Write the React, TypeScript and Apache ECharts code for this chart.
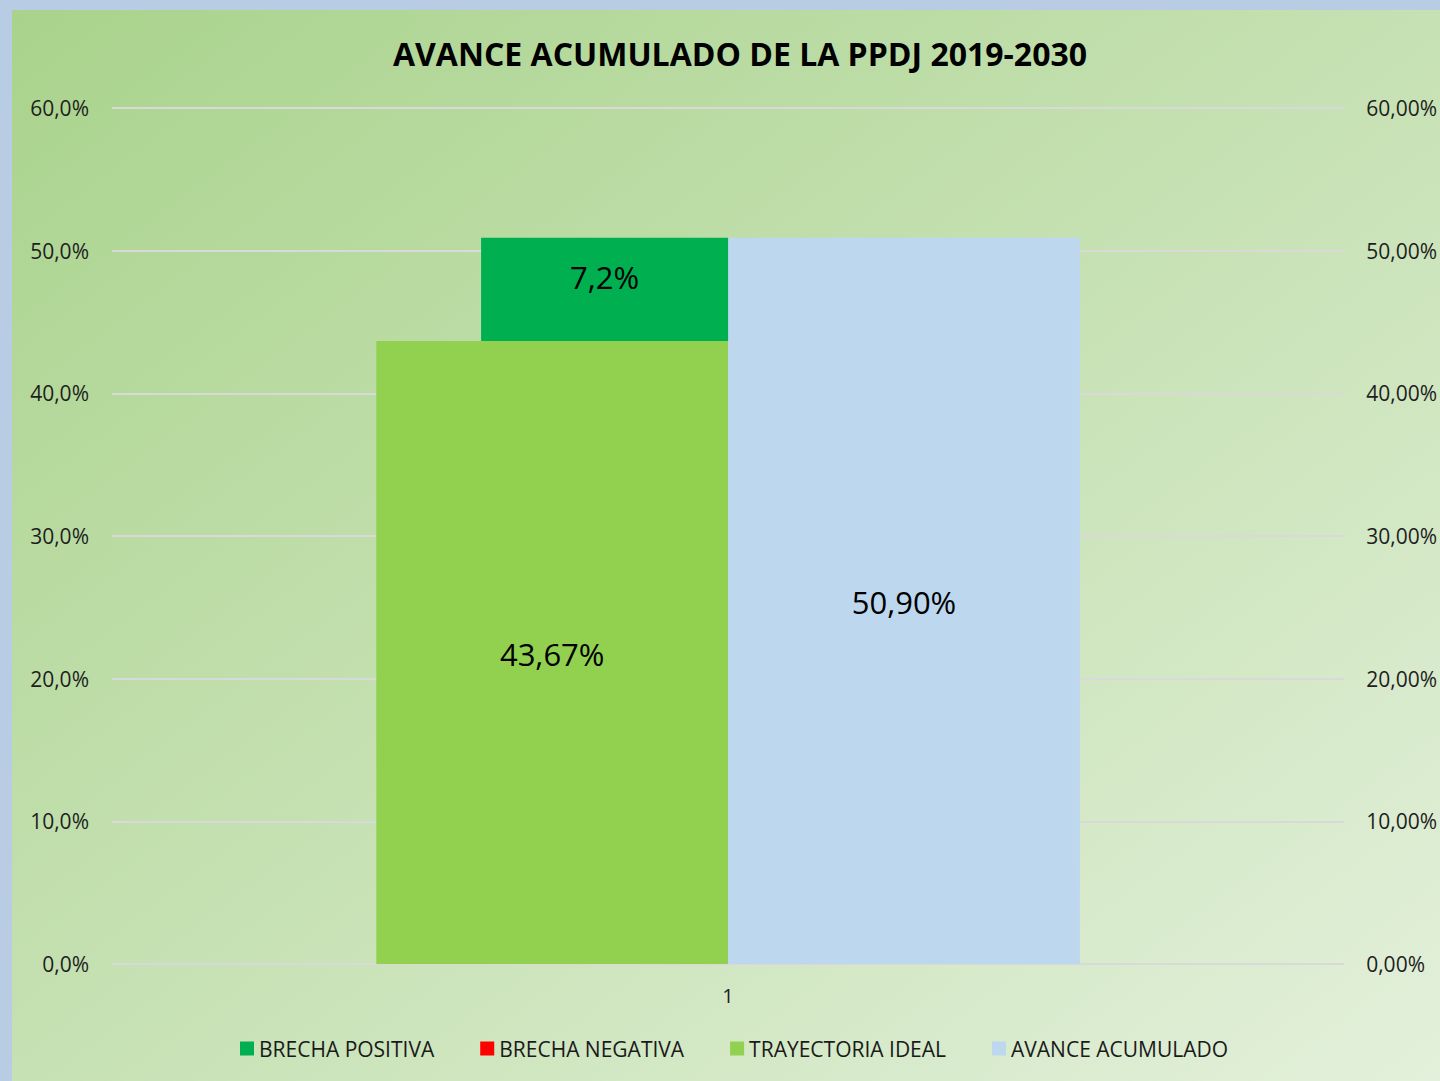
import React, { useEffect, useRef } from "react";
import * as echarts from "echarts";

const categories = ["1"];
const trayectoriaIdeal = [43.67];
const avanceAcumulado = [50.9];
const brechaPositiva = [7.23];
const brechaNegativa = [0];
const axisTicks = [0, 10, 20, 30, 40, 50, 60];

const FONT = "'Open Sans', 'Noto Sans', sans-serif";

const fmt = (v: number, d: number) => v.toFixed(d).replace(".", ",") + "%";

export default function App() {
  const ref = useRef<HTMLDivElement>(null);
  useEffect(() => {
    document.body.style.margin = "0";
    const chart = echarts.init(ref.current!, null, { renderer: "svg" });
    const labelStyle = { color: "#1e1e1e", fontSize: 21, fontFamily: FONT };
    chart.setOption({
      animation: false,
      backgroundColor: {
        type: "linear",
        x: 0,
        y: 0,
        x2: 1,
        y2: 1,
        colorStops: [
          { offset: 0, color: "#a9d38c" },
          { offset: 0.5, color: "#c6e1b3" },
          { offset: 1, color: "#e3f0db" },
        ],
      },
      title: {
        text: "AVANCE ACUMULADO DE LA PPDJ 2019-2030",
        left: 723,
        top: 22,
        textAlign: "center",
        textStyle: { fontFamily: FONT, fontWeight: "bold", fontSize: 32, color: "#000" },
      },
      legend: {
        top: 1023,
        left: 223,
        icon: "rect",
        itemWidth: 14,
        itemHeight: 14,
        itemGap: 46,
        data: ["BRECHA POSITIVA", "BRECHA NEGATIVA", "TRAYECTORIA IDEAL", "AVANCE ACUMULADO"],
        textStyle: { fontFamily: FONT, fontSize: 21, color: "#1a1a1a" },
      },
      grid: { left: 100, right: 93, top: 98, bottom: 117, containLabel: false },
      xAxis: [
        {
          type: "category",
          data: categories,
          axisLine: { show: false },
          axisTick: { show: false },
          axisLabel: { ...labelStyle, fontSize: 20, margin: 21 },
        },
        {
          type: "category",
          data: categories,
          show: false,
        },
      ],
      yAxis: [
        {
          type: "value",
          min: axisTicks[0],
          max: axisTicks[axisTicks.length - 1],
          interval: 10,
          axisLine: { show: false },
          axisTick: { show: false },
          splitLine: { lineStyle: { color: "#d9d9d9", width: 2 } },
          axisLabel: { ...labelStyle, margin: 23, formatter: (v: number) => fmt(v, 1) },
        },
        {
          type: "value",
          min: axisTicks[0],
          max: axisTicks[axisTicks.length - 1],
          interval: 10,
          axisLine: { show: false },
          axisTick: { show: false },
          splitLine: { show: false },
          axisLabel: { ...labelStyle, margin: 22, formatter: (v: number) => fmt(v, 2) },
        },
      ],
      series: [
        {
          name: "TRAYECTORIA IDEAL",
          type: "bar",
          xAxisIndex: 0,
          yAxisIndex: 0,
          data: trayectoriaIdeal,
          barGap: "0%",
          barCategoryGap: "42.9%",
          itemStyle: { color: "#92d050" },
          label: {
            show: true,
            position: "inside",
            formatter: (p: any) => fmt(p.value, 2),
            color: "#000",
            fontSize: 31,
            fontFamily: FONT,
            offset: [0, 2],
          },
        },
        {
          name: "AVANCE ACUMULADO",
          type: "bar",
          xAxisIndex: 0,
          yAxisIndex: 0,
          data: avanceAcumulado,
          itemStyle: { color: "#bdd7ee" },
          label: {
            show: true,
            position: "inside",
            formatter: (p: any) => fmt(p.value, 2),
            color: "#000",
            fontSize: 31,
            fontFamily: FONT,
            offset: [0, 1],
          },
        },
        {
          name: "base",
          type: "bar",
          xAxisIndex: 1,
          yAxisIndex: 1,
          stack: "brecha",
          data: trayectoriaIdeal,
          barWidth: 247,
          barGap: "0%",
          silent: true,
          itemStyle: { color: "rgba(0,0,0,0)" },
          label: { show: false },
        },
        {
          name: "BRECHA POSITIVA",
          type: "bar",
          xAxisIndex: 1,
          yAxisIndex: 1,
          stack: "brecha",
          data: brechaPositiva,
          barWidth: 247,
          itemStyle: { color: "#00b050" },
          label: {
            show: true,
            position: "inside",
            formatter: (p: any) => fmt(p.value, 1),
            color: "#000",
            fontSize: 31,
            fontFamily: FONT,
            offset: [0, -12],
          },
        },
        {
          name: "BRECHA NEGATIVA",
          type: "bar",
          xAxisIndex: 1,
          yAxisIndex: 1,
          stack: "brecha",
          data: brechaNegativa,
          barWidth: 247,
          itemStyle: { color: "#ff0000" },
          label: { show: false },
        },
        {
          name: "spacer",
          type: "bar",
          xAxisIndex: 1,
          yAxisIndex: 1,
          data: [0],
          barWidth: 247,
          silent: true,
          itemStyle: { color: "rgba(0,0,0,0)" },
          label: { show: false },
        },
      ],
    });
    return () => chart.dispose();
  }, []);
  return (
    <div style={{ position: "fixed", left: 0, top: 0, width: 1440, height: 1081, background: "#b8cce4" }}>
      <div ref={ref} style={{ position: "absolute", left: 12, top: 10, width: 1428, height: 1071 }} />
    </div>
  );
}
